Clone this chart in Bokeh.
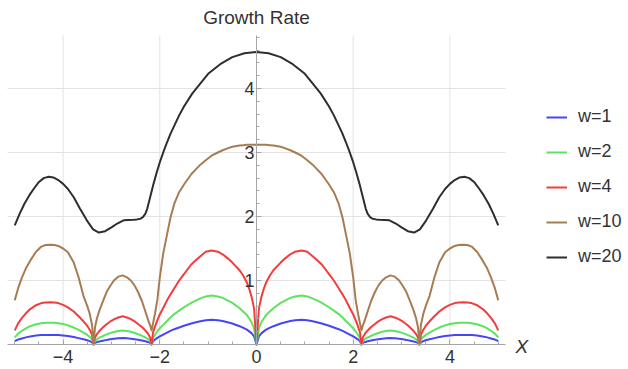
from bokeh.plotting import figure
from bokeh.models import (Range1d, LinearAxis, FixedTicker, Grid, Legend, LegendItem, Label)
from bokeh.embed import file_html
from bokeh.resources import INLINE

# ---------------- data ----------------
X = [-5.0, -4.93, -4.85, -4.77, -4.68, -4.56, -4.45, -4.36, -4.27, -4.18, -4.1, -4.0, -3.9,
     -3.78, -3.68, -3.58, -3.5, -3.45, -3.4,
     -3.37, -3.34, -3.3, -3.25, -3.18, -3.1, -3.03, -2.95, -2.86, -2.77, -2.68, -2.6, -2.52,
     -2.45, -2.37, -2.3, -2.25, -2.2,
     -2.17, -2.14, -2.1, -2.05, -2.0, -1.93, -1.85, -1.78, -1.7, -1.6, -1.5, -1.35, -1.25,
     -1.16, -1.05, -0.93, -0.8, -0.7, -0.6, -0.5, -0.35, -0.27, -0.2, -0.15, -0.1, -0.05,
     0.0,
     0.05, 0.1, 0.15, 0.2, 0.27, 0.35, 0.5, 0.6, 0.7, 0.8, 0.93, 1.05, 1.16, 1.25, 1.35,
     1.5, 1.6, 1.7, 1.78, 1.85, 1.93, 2.0, 2.05, 2.1, 2.14, 2.17,
     2.2, 2.25, 2.3, 2.37, 2.45, 2.52, 2.6, 2.68, 2.77, 2.86, 2.95, 3.03, 3.1, 3.18, 3.25,
     3.3, 3.34, 3.37,
     3.4, 3.45, 3.5, 3.58, 3.68, 3.78, 3.9, 4.0, 4.1, 4.18, 4.27, 4.36, 4.45, 4.56, 4.68,
     4.77, 4.85, 4.93, 5.0]

w1 = [0.055, 0.077, 0.095, 0.111, 0.126, 0.14, 0.147, 0.149, 0.15, 0.149, 0.147, 0.141, 0.132,
      0.117, 0.1, 0.083, 0.066, 0.053, 0.033,
      0.0, 0.025, 0.037, 0.048, 0.06, 0.072, 0.081, 0.089, 0.096, 0.1, 0.096, 0.09, 0.082,
      0.073, 0.062, 0.05, 0.04, 0.025,
      0.0, 0.05, 0.077, 0.104, 0.127, 0.154, 0.185, 0.212, 0.239, 0.266, 0.293, 0.328, 0.347,
      0.363, 0.378, 0.386, 0.378, 0.367, 0.347, 0.328, 0.286, 0.259, 0.232, 0.205, 0.174, 0.127,
      0.0,
      0.127, 0.174, 0.205, 0.232, 0.259, 0.286, 0.328, 0.347, 0.367, 0.378, 0.386, 0.378, 0.363,
      0.347, 0.328, 0.293, 0.266, 0.239, 0.212, 0.185, 0.154, 0.127, 0.104, 0.077, 0.05, 0.0,
      0.025, 0.04, 0.05, 0.062, 0.073, 0.082, 0.09, 0.096, 0.1, 0.096, 0.089, 0.081, 0.072,
      0.06, 0.048, 0.037, 0.025, 0.0,
      0.033, 0.053, 0.066, 0.083, 0.1, 0.117, 0.132, 0.141, 0.147, 0.149, 0.15, 0.149, 0.147,
      0.14, 0.126, 0.111, 0.095, 0.077, 0.055]

w2 = [0.11, 0.17, 0.214, 0.252, 0.286, 0.316, 0.333, 0.338, 0.34, 0.338, 0.333, 0.32, 0.299,
      0.265, 0.228, 0.187, 0.15, 0.119, 0.075,
      0.0, 0.055, 0.081, 0.106, 0.132, 0.158, 0.178, 0.196, 0.211, 0.22, 0.211, 0.198, 0.18,
      0.161, 0.136, 0.11, 0.088, 0.055,
      0.0, 0.1, 0.153, 0.207, 0.253, 0.306, 0.368, 0.421, 0.475, 0.529, 0.582, 0.651, 0.689,
      0.72, 0.751, 0.766, 0.751, 0.728, 0.689, 0.651, 0.567, 0.513, 0.46, 0.406, 0.345, 0.253,
      0.0,
      0.253, 0.345, 0.406, 0.46, 0.513, 0.567, 0.651, 0.689, 0.728, 0.751, 0.766, 0.751, 0.72,
      0.689, 0.651, 0.582, 0.529, 0.475, 0.421, 0.368, 0.306, 0.253, 0.207, 0.153, 0.1, 0.0,
      0.055, 0.088, 0.11, 0.136, 0.161, 0.18, 0.198, 0.211, 0.22, 0.211, 0.196, 0.178, 0.158,
      0.132, 0.106, 0.081, 0.055, 0.0,
      0.075, 0.119, 0.15, 0.187, 0.228, 0.265, 0.299, 0.32, 0.333, 0.338, 0.34, 0.338, 0.333,
      0.316, 0.286, 0.252, 0.214, 0.17, 0.11]

w4 = [0.22, 0.33, 0.416, 0.488, 0.554, 0.614, 0.647, 0.657, 0.66, 0.657, 0.647, 0.62, 0.581,
      0.515, 0.442, 0.363, 0.29, 0.231, 0.145,
      0.0, 0.11, 0.163, 0.211, 0.264, 0.317, 0.356, 0.392, 0.422, 0.44, 0.422, 0.396, 0.361,
      0.321, 0.273, 0.22, 0.176, 0.11,
      0.0, 0.19, 0.28, 0.38, 0.47, 0.57, 0.69, 0.78, 0.88, 1.0, 1.10, 1.25, 1.32,
      1.38, 1.45, 1.47, 1.45, 1.41, 1.35, 1.28, 1.16, 1.07, 0.97, 0.87, 0.74, 0.56,
      0.0,
      0.56, 0.74, 0.87, 0.97, 1.07, 1.16, 1.28, 1.35, 1.41, 1.45, 1.47, 1.45, 1.38,
      1.32, 1.25, 1.10, 1.0, 0.88, 0.78, 0.69, 0.57, 0.47, 0.38, 0.28, 0.19, 0.0,
      0.11, 0.176, 0.22, 0.273, 0.321, 0.361, 0.396, 0.422, 0.44, 0.422, 0.392, 0.356, 0.317,
      0.264, 0.211, 0.163, 0.11, 0.0,
      0.145, 0.231, 0.29, 0.363, 0.442, 0.515, 0.581, 0.62, 0.647, 0.657, 0.66, 0.657, 0.647,
      0.614, 0.554, 0.488, 0.416, 0.33, 0.22]

w10 = [0.69, 0.88, 1.05, 1.19, 1.31, 1.45, 1.53, 1.555, 1.56, 1.555, 1.54, 1.5, 1.44,
       1.28, 1.05, 0.76, 0.6, 0.48, 0.3,
       0.0, 0.27, 0.41, 0.53, 0.67, 0.82, 0.91, 1.0, 1.06, 1.08, 1.05, 1.0, 0.92,
       0.82, 0.68, 0.52, 0.4, 0.3,
       0.22, 0.33, 0.48, 0.7, 1.05, 1.42, 1.72, 1.98, 2.2, 2.38, 2.5, 2.66, 2.74,
       2.81, 2.88, 2.95, 3.0, 3.035, 3.065, 3.09, 3.11, 3.115, 3.12, 3.12, 3.12, 3.12,
       3.12,
       3.12, 3.12, 3.12, 3.12, 3.115, 3.11, 3.09, 3.065, 3.035, 3.0, 2.95, 2.88, 2.81,
       2.74, 2.66, 2.5, 2.38, 2.2, 1.98, 1.72, 1.42, 1.05, 0.7, 0.48, 0.33, 0.22,
       0.3, 0.4, 0.52, 0.68, 0.82, 0.92, 1.0, 1.05, 1.08, 1.06, 1.0, 0.91, 0.82,
       0.67, 0.53, 0.41, 0.27, 0.0,
       0.3, 0.48, 0.6, 0.76, 1.05, 1.28, 1.44, 1.5, 1.54, 1.555, 1.56, 1.555, 1.53,
       1.45, 1.31, 1.19, 1.05, 0.88, 0.69]

XB = [-5.0, -4.9, -4.8, -4.7, -4.61, -4.5, -4.4, -4.3, -4.2, -4.1, -4.0, -3.9, -3.78, -3.65,
      -3.51, -3.38, -3.26, -3.13, -3.0, -2.88, -2.75, -2.65, -2.54, -2.47, -2.4, -2.35, -2.3,
      -2.26, -2.2, -2.13, -2.06, -1.99, -1.92, -1.85, -1.78, -1.7, -1.6, -1.5, -1.33, -1.16,
      -1.0, -0.75, -0.5, -0.25,
      0.0,
      0.25, 0.5, 0.75, 1.0, 1.16, 1.33, 1.5, 1.6, 1.7, 1.78, 1.85, 1.92, 1.99, 2.06, 2.13,
      2.2, 2.26, 2.3, 2.35, 2.4, 2.47, 2.54, 2.65, 2.75, 2.88, 3.0, 3.13, 3.26, 3.38, 3.51,
      3.65, 3.78, 3.9, 4.0, 4.1, 4.2, 4.3, 4.4, 4.5, 4.61, 4.7, 4.8, 4.9, 5.0]
w20 = [1.86, 2.04, 2.2, 2.33, 2.43, 2.54, 2.6, 2.62, 2.61, 2.57, 2.51, 2.43, 2.3, 2.12,
       1.94, 1.8, 1.75, 1.77, 1.83, 1.89, 1.94, 1.945, 1.95, 1.955, 1.965, 1.99, 2.04,
       2.12, 2.3, 2.51, 2.70, 2.87, 3.02, 3.16, 3.29, 3.42, 3.58, 3.72, 3.92, 4.08,
       4.23, 4.38, 4.49, 4.55,
       4.57,
       4.55, 4.49, 4.38, 4.23, 4.08, 3.92, 3.72, 3.58, 3.42, 3.29, 3.16, 3.02, 2.87, 2.70, 2.51,
       2.3, 2.12, 2.04, 1.99, 1.965, 1.955, 1.95, 1.945, 1.94, 1.89, 1.83, 1.77, 1.75, 1.8, 1.94,
       2.12, 2.3, 2.43, 2.51, 2.57, 2.61, 2.62, 2.6, 2.54, 2.43, 2.33, 2.2, 2.04, 1.86]

labels = ["w=1", "w=2", "w=4", "w=10", "w=20"]
colors = ["#4646f8", "#5ee35e", "#f53c3c", "#a87c52", "#2e2e2e"]
x_ticks = [-4, -2, 0, 2, 4]
y_ticks = [1, 2, 3, 4]
x_grid = [-4, -2, 2, 4]

for ys in (w1, w2, w4, w10):
    assert len(ys) == len(X), (len(ys), len(X))
assert len(w20) == len(XB), (len(w20), len(XB))

# plot-region limits (layout)
XL, XR = -5.15, 5.15
YB, YT = 0.0, 4.83

FONT = "Liberation Sans"
TXT = "#333333"
AX = "#a6a6a6"
GRID = "#e3e3e3"

# the frame covers the whole canvas; the data region is placed inside it
p = figure(frame_width=628, frame_height=369, output_backend="svg", toolbar_location=None,
           x_range=Range1d(-5.295, 7.694), y_range=Range1d(-0.3906, 5.375),
           x_axis_location=None, y_axis_location=None,
           min_border=0)
p.outline_line_color = None
p.background_fill_color = "white"
p.border_fill_color = "white"
p.center = [r for r in p.center if not isinstance(r, Grid)]

# grid lines
p.segment(x0=x_grid, y0=[YB] * len(x_grid), x1=x_grid, y1=[YT] * len(x_grid),
          line_color=GRID, line_width=1)
p.segment(x0=[XL] * len(y_ticks), y0=y_ticks, x1=[XR] * len(y_ticks), y1=y_ticks,
          line_color=GRID, line_width=1)

x_minor = [v / 2 for v in range(-10, 11)]
xaxis = LinearAxis(fixed_location=0, bounds=(XL, XR),
                   ticker=FixedTicker(ticks=x_ticks, minor_ticks=x_minor),
                   major_label_overrides={-4: "\u22124", -2: "\u22122", 0: "0", 2: "2", 4: "4"},
                   axis_line_color=AX, major_tick_line_color=AX, minor_tick_line_color=AX,
                   major_tick_in=5, major_tick_out=0, minor_tick_in=3, minor_tick_out=0,
                   major_label_standoff=5,
                   major_label_text_font=FONT, major_label_text_font_size="18px",
                   major_label_text_color=TXT)
p.add_layout(xaxis, "below")

y_minor = [v / 5 for v in range(0, 25)]
yaxis = LinearAxis(fixed_location=0, bounds=(YB, YT),
                   ticker=FixedTicker(ticks=y_ticks, minor_ticks=y_minor),
                   axis_line_color=AX, major_tick_line_color=AX, minor_tick_line_color=AX,
                   major_tick_in=5, major_tick_out=0, minor_tick_in=3, minor_tick_out=0,
                   major_label_standoff=2,
                   major_label_text_font=FONT, major_label_text_font_size="18px",
                   major_label_text_color=TXT)
p.add_layout(yaxis, "left")

series = [(X, w1), (X, w2), (X, w4), (X, w10), (XB, w20)]
items = []
for (xs, ys), lab, col in zip(series, labels, colors):
    r = p.line(xs, ys, line_color=col, line_width=2, line_join="round")
    items.append(LegendItem(label=lab, renderers=[r]))

legend = Legend(items=items, location=(546, 102), border_line_color=None,
                background_fill_alpha=0, margin=0, padding=0,
                glyph_width=21, glyph_height=20, label_height=20, spacing=14,
                label_standoff=11, label_text_font=FONT, label_text_font_size="18px",
                label_text_color=TXT)
p.add_layout(legend, "center")

p.add_layout(Label(x=0, y=YT, y_offset=18, text="Growth Rate", text_align="center",
                   text_baseline="middle", text_font=FONT, text_font_size="19px",
                   text_color=TXT))
p.add_layout(Label(x=XR, y=0, x_offset=10, y_offset=-2, text="X", text_align="left",
                   text_baseline="middle", text_font=FONT, text_font_size="19px",
                   text_font_style="italic", text_color=TXT))

open("out.html", "w").write(file_html(p, INLINE))
